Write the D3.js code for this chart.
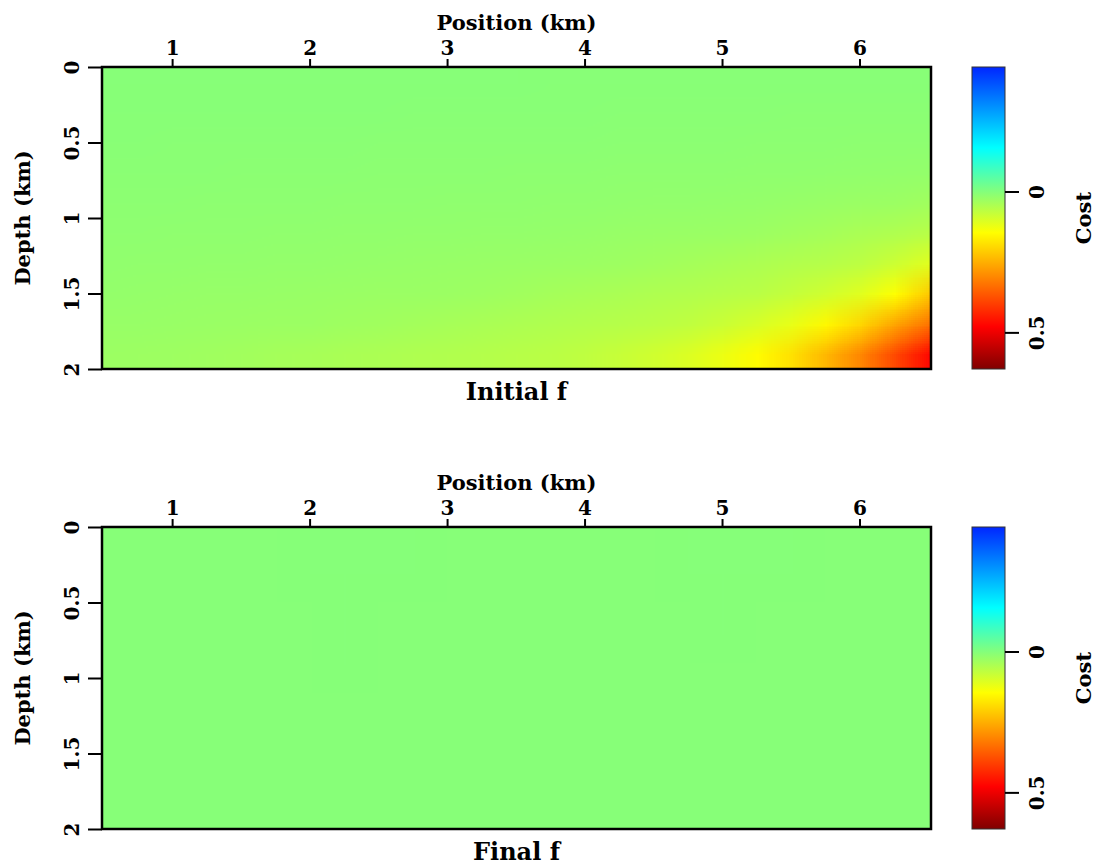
<!DOCTYPE html>
<html>
<head>
<meta charset="utf-8">
<script src="https://cdn.jsdelivr.net/npm/d3@7"></script>
<style>
  body { margin: 0; background: #fff; }
  text { font-family: "DejaVu Serif", serif; font-weight: bold; fill: #000; }
</style>
</head>
<body>
<div id="chart"></div>
<script>
// cell centres (km)
var positions = [0.5, 0.75, 1, 1.25, 1.5, 1.75, 2, 2.25, 2.5, 2.75, 3, 3.25, 3.5,
                 3.75, 4, 4.25, 4.5, 4.75, 5, 5.25, 5.5, 5.75, 6, 6.25, 6.5];
var depths = [0.1, 0.3, 0.5, 0.7, 0.9, 1.1, 1.3, 1.5, 1.7, 1.9];

var xTicks = [1, 2, 3, 4, 5, 6];
var yTicks = [0, 0.5, 1, 1.5, 2];
var costTicks = [0, 0.5];

// colour bar: cost value -> colour
var costStops = [-0.442, -0.155, 0.146, 0.48, 0.63];
var costColors = ["#0026ff", "#00ffff", "#ffff00", "#ff0000", "#800000"];

var initialCost = [
  [0.0038,0.0039,0.0040,0.0041,0.0042,0.0043,0.0044,0.0044,0.0045,0.0046,0.0047,0.0048,0.0049,0.0050,0.0051,0.0052,0.0053,0.0054,0.0054,0.0055,0.0056,0.0057,0.0058,0.0059,0.0060],
  [0.0053,0.0054,0.0055,0.0056,0.0057,0.0058,0.0059,0.0059,0.0060,0.0062,0.0064,0.0066,0.0068,0.0070,0.0072,0.0074,0.0077,0.0079,0.0081,0.0083,0.0085,0.0087,0.0089,0.0091,0.0093],
  [0.0070,0.0072,0.0074,0.0076,0.0077,0.0079,0.0081,0.0083,0.0085,0.0086,0.0088,0.0090,0.0092,0.0094,0.0096,0.0097,0.0099,0.0102,0.0107,0.0111,0.0115,0.0119,0.0123,0.0128,0.0132],
  [0.0090,0.0092,0.0094,0.0096,0.0097,0.0099,0.0102,0.0105,0.0109,0.0112,0.0116,0.0119,0.0123,0.0126,0.0129,0.0133,0.0136,0.0140,0.0143,0.0147,0.0150,0.0160,0.0171,0.0182,0.0193],
  [0.0113,0.0116,0.0119,0.0122,0.0125,0.0129,0.0132,0.0135,0.0138,0.0141,0.0144,0.0147,0.0150,0.0158,0.0166,0.0173,0.0181,0.0188,0.0196,0.0210,0.0232,0.0253,0.0274,0.0295,0.0345],
  [0.0138,0.0141,0.0144,0.0147,0.0150,0.0156,0.0162,0.0168,0.0174,0.0180,0.0186,0.0192,0.0198,0.0210,0.0225,0.0240,0.0255,0.0270,0.0285,0.0300,0.0351,0.0400,0.0467,0.0533,0.0620],
  [0.0167,0.0172,0.0178,0.0183,0.0188,0.0194,0.0199,0.0210,0.0222,0.0233,0.0245,0.0256,0.0268,0.0280,0.0291,0.0310,0.0353,0.0395,0.0445,0.0496,0.0547,0.0597,0.0680,0.0860,0.1100],
  [0.0200,0.0210,0.0219,0.0229,0.0238,0.0248,0.0257,0.0267,0.0276,0.0285,0.0295,0.0317,0.0354,0.0392,0.0431,0.0472,0.0513,0.0554,0.0596,0.0650,0.0760,0.0900,0.1100,0.1450,0.2150],
  [0.0240,0.0250,0.0259,0.0269,0.0278,0.0288,0.0297,0.0323,0.0355,0.0388,0.0421,0.0456,0.0491,0.0526,0.0561,0.0596,0.0640,0.0720,0.0840,0.1000,0.1200,0.1550,0.2000,0.2650,0.3300],
  [0.0290,0.0300,0.0310,0.0335,0.0365,0.0395,0.0425,0.0455,0.0485,0.0515,0.0545,0.0575,0.0610,0.0650,0.0700,0.0800,0.0900,0.1050,0.1250,0.1500,0.1850,0.2400,0.3050,0.3850,0.4700]
];

var finalCost = [
  [0.004,0.004,0.004,0.004,0.004,0.004,0.0035,0.003,0.003,0.0035,0.004,0.004,0.004,0.004,0.004,0.004,0.004,0.0035,0.003,0.003,0.0035,0.004,0.004,0.004,0.004],
  [0.004,0.004,0.004,0.004,0.004,0.004,0.0035,0.003,0.003,0.0035,0.004,0.004,0.004,0.004,0.004,0.004,0.004,0.0035,0.003,0.003,0.0035,0.004,0.004,0.004,0.004],
  [0.004,0.004,0.004,0.004,0.004,0.004,0.004,0.0035,0.004,0.004,0.004,0.004,0.004,0.004,0.004,0.004,0.004,0.004,0.0035,0.004,0.004,0.004,0.004,0.004,0.004],
  [0.004,0.004,0.004,0.004,0.004,0.004,0.004,0.0035,0.004,0.004,0.004,0.004,0.004,0.004,0.004,0.004,0.004,0.004,0.0035,0.004,0.004,0.004,0.004,0.004,0.004],
  [0.004,0.004,0.004,0.004,0.004,0.004,0.004,0.0035,0.004,0.004,0.004,0.004,0.004,0.004,0.004,0.004,0.004,0.004,0.004,0.004,0.004,0.004,0.004,0.004,0.004],
  [0.004,0.004,0.004,0.004,0.004,0.004,0.004,0.004,0.004,0.004,0.004,0.004,0.004,0.004,0.004,0.004,0.004,0.004,0.004,0.004,0.004,0.004,0.004,0.004,0.004],
  [0.004,0.004,0.004,0.004,0.004,0.004,0.004,0.004,0.004,0.004,0.004,0.004,0.004,0.004,0.004,0.004,0.004,0.004,0.004,0.004,0.004,0.004,0.004,0.004,0.004],
  [0.004,0.004,0.004,0.004,0.004,0.004,0.004,0.004,0.004,0.004,0.004,0.004,0.004,0.004,0.004,0.004,0.004,0.004,0.004,0.004,0.004,0.004,0.004,0.004,0.004],
  [0.004,0.004,0.004,0.004,0.004,0.004,0.004,0.004,0.004,0.004,0.004,0.004,0.004,0.004,0.004,0.004,0.004,0.004,0.004,0.004,0.004,0.004,0.004,0.004,0.004],
  [0.004,0.004,0.004,0.004,0.004,0.004,0.004,0.004,0.004,0.004,0.004,0.004,0.004,0.004,0.004,0.004,0.004,0.004,0.004,0.004,0.004,0.004,0.004,0.004,0.004]
];

var W = 1099, H = 867;
var left = 102, right = 931, panelH = 302;
var barX = 972, barW = 33;

var svg = d3.select("#chart").append("svg")
    .attr("width", W)
    .attr("height", H);

var x = d3.scaleLinear().domain([0.49, 6.52]).range([left, right]);
var color = d3.scaleLinear().domain(costStops).range(costColors).clamp(true);
var dx = 0.25, dz = 0.2;
var fmt = function (d) { return String(d); };

function drawPanel(top, grid, title, id) {
    var y = d3.scaleLinear().domain([0, 2]).range([top, top + panelH]);

    svg.append("clipPath").attr("id", "clip" + id)
        .append("rect")
        .attr("x", left).attr("y", top)
        .attr("width", right - left).attr("height", panelH);

    // one pixel per grid cell, then let the image be stretched over the panel
    var canvas = document.createElement("canvas");
    canvas.width = positions.length;
    canvas.height = depths.length;
    var ctx = canvas.getContext("2d");
    grid.forEach(function (row, j) {
        row.forEach(function (v, i) {
            ctx.fillStyle = color(v);
            ctx.fillRect(i, j, 1, 1);
        });
    });

    svg.append("g")
        .attr("clip-path", "url(#clip" + id + ")")
        .append("image")
        .attr("href", canvas.toDataURL())
        .attr("x", x(positions[0] - dx / 2))
        .attr("y", y(depths[0] - dz / 2))
        .attr("width", x(positions[positions.length - 1] + dx / 2) - x(positions[0] - dx / 2))
        .attr("height", y(depths[depths.length - 1] + dz / 2) - y(depths[0] - dz / 2))
        .attr("preserveAspectRatio", "none");

    // frame
    svg.append("rect")
        .attr("x", left).attr("y", top)
        .attr("width", right - left).attr("height", panelH)
        .attr("fill", "none")
        .attr("stroke", "#000")
        .attr("stroke-width", 2.5);

    // top axis
    var gx = svg.append("g")
        .attr("transform", "translate(0," + top + ")")
        .call(d3.axisTop(x).tickValues(xTicks).tickSize(8).tickPadding(4).tickFormat(fmt));
    gx.select(".domain").remove();
    gx.selectAll("line").attr("stroke-width", 2);
    gx.selectAll("text").style("font-size", "20px").style("font-family", "DejaVu Serif").style("font-weight", "bold");

    svg.append("text")
        .attr("x", (left + right) / 2)
        .attr("y", top - 37)
        .attr("text-anchor", "middle")
        .style("font-size", "21px")
        .text("Position (km)");

    // left axis, labels turned on their side
    var gy = svg.append("g")
        .attr("transform", "translate(" + left + ",0)")
        .call(d3.axisLeft(y).tickValues(yTicks).tickSize(14).tickFormat(fmt));
    gy.select(".domain").remove();
    gy.selectAll("line").attr("stroke-width", 2);
    gy.selectAll("text")
        .attr("x", 0)
        .attr("y", -30)
        .attr("dy", "0.36em")
        .attr("transform", "rotate(-90)")
        .style("text-anchor", "middle")
        .style("font-size", "20px").style("font-family", "DejaVu Serif").style("font-weight", "bold");

    svg.append("text")
        .attr("transform", "translate(22," + (top + panelH / 2) + ") rotate(-90)")
        .attr("dy", "0.36em")
        .attr("text-anchor", "middle")
        .style("font-size", "21px")
        .text("Depth (km)");

    // panel title
    svg.append("text")
        .attr("x", (left + right) / 2)
        .attr("y", top + panelH + 31)
        .attr("text-anchor", "middle")
        .style("font-size", "24px")
        .text(title);

    // colour bar
    var c = d3.scaleLinear().domain([costStops[0], costStops[costStops.length - 1]]).range([top, top + panelH]);
    var grad = svg.append("defs").append("linearGradient")
        .attr("id", "grad" + id)
        .attr("x1", 0).attr("y1", 0).attr("x2", 0).attr("y2", 1);
    grad.selectAll("stop")
        .data(costStops)
        .enter()
        .append("stop")
        .attr("offset", function (v) { return (c(v) - top) / panelH; })
        .attr("stop-color", function (v) { return color(v); });

    svg.append("rect")
        .attr("x", barX).attr("y", top)
        .attr("width", barW).attr("height", panelH)
        .attr("fill", "url(#grad" + id + ")")
        .attr("stroke", "#333")
        .attr("stroke-width", 1);

    var gc = svg.append("g")
        .attr("transform", "translate(" + (barX + barW) + ",0)")
        .call(d3.axisRight(c).tickValues(costTicks).tickSize(14).tickFormat(fmt));
    gc.select(".domain").remove();
    gc.selectAll("line").attr("stroke-width", 2);
    gc.selectAll("text")
        .attr("x", 0)
        .attr("y", 32)
        .attr("dy", "0.36em")
        .attr("transform", "rotate(-90)")
        .style("text-anchor", "middle")
        .style("font-size", "20px").style("font-family", "DejaVu Serif").style("font-weight", "bold");

    svg.append("text")
        .attr("transform", "translate(1083," + (top + panelH / 2) + ") rotate(-90)")
        .attr("dy", "0.36em")
        .attr("text-anchor", "middle")
        .style("font-size", "21px")
        .text("Cost");
}

drawPanel(67, initialCost, "Initial f", "a");
drawPanel(527, finalCost, "Final f", "b");
</script>
</body>
</html>
